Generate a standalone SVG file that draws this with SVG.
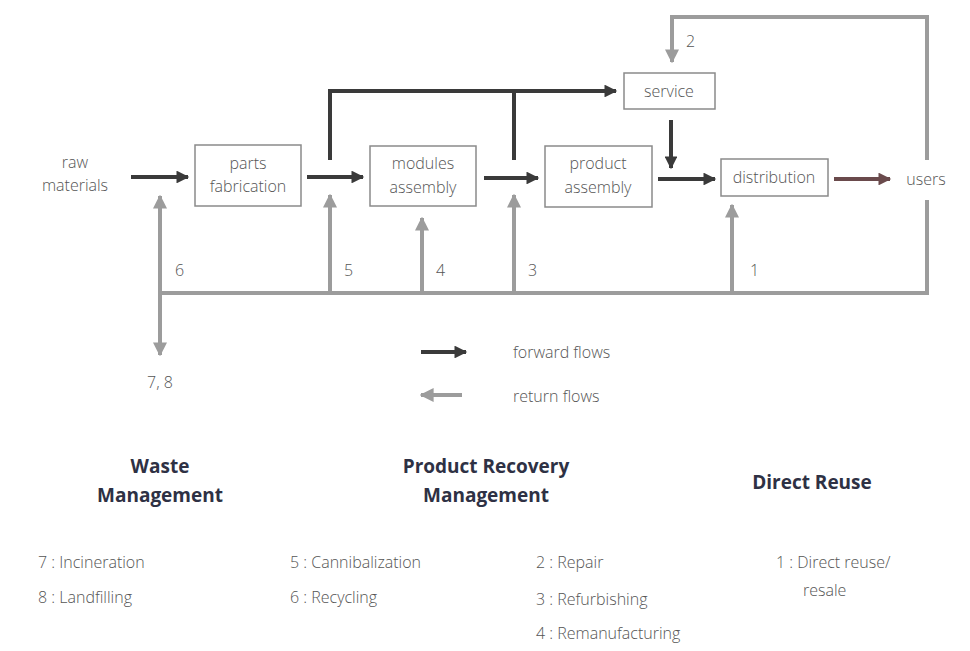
<svg xmlns="http://www.w3.org/2000/svg" width="970" height="651" viewBox="0 0 970 651">
<defs>
<marker id="fw" viewBox="0 0 10 10" refX="9" refY="5" markerWidth="4.5" markerHeight="3.2" orient="auto" markerUnits="strokeWidth"><path d="M0,0 L10,5 L0,10 z" fill="#3a3a3a"/></marker>
<marker id="rt" viewBox="0 0 10 10" refX="9" refY="5" markerWidth="3.5" markerHeight="3.5" orient="auto" markerUnits="strokeWidth"><path d="M0,0 L10,5 L0,10 z" fill="#9c9c9c"/></marker>
<marker id="rd" viewBox="0 0 10 10" refX="9" refY="5" markerWidth="4.5" markerHeight="3.2" orient="auto" markerUnits="strokeWidth"><path d="M0,0 L10,5 L0,10 z" fill="#6a4a4c"/></marker>
</defs>
<style>
.box{fill:#fff;stroke:#8a8a8a;stroke-width:1.5}
.t{font-family:"Open Sans","Liberation Sans",sans-serif;font-size:16px;fill:#555;font-weight:300}
.c{text-anchor:middle}
.h{font-family:"Open Sans","Liberation Sans",sans-serif;font-size:19px;font-weight:bold;fill:#2e3144;text-anchor:middle}
.f{fill:none;stroke:#3a3a3a;stroke-width:4}
.r{fill:none;stroke:#9c9c9c;stroke-width:4}
</style>
<rect width="970" height="651" fill="#fff"/>
<g id="connectors">
<line class="f" x1="131" y1="177" x2="188" y2="177" marker-end="url(#fw)"/>
<line class="f" x1="307" y1="177" x2="363" y2="177" marker-end="url(#fw)"/>
<polyline class="f" points="330,160 330,91 616,91" marker-end="url(#fw)"/>
<line class="f" x1="514" y1="91" x2="514" y2="160"/>
<line class="f" x1="484" y1="178" x2="538" y2="178" marker-end="url(#fw)"/>
<line class="f" x1="671" y1="120" x2="671" y2="168" marker-end="url(#fw)"/>
<line class="f" x1="658" y1="179" x2="715" y2="179" marker-end="url(#fw)"/>
<line x1="834" y1="179" x2="890" y2="179" stroke="#6a4a4c" stroke-width="4" marker-end="url(#rd)"/>
<polyline class="r" points="927,200 927,293 160,293"/>
<polyline class="r" points="927,160 927,17 672,17 672,62" marker-end="url(#rt)"/>
<line class="r" x1="160" y1="293" x2="160" y2="196" marker-end="url(#rt)"/>
<line class="r" x1="160" y1="293" x2="160" y2="355" marker-end="url(#rt)"/>
<line class="r" x1="330" y1="293" x2="330" y2="195" marker-end="url(#rt)"/>
<line class="r" x1="422" y1="293" x2="422" y2="218" marker-end="url(#rt)"/>
<line class="r" x1="514" y1="293" x2="514" y2="195" marker-end="url(#rt)"/>
<line class="r" x1="732" y1="293" x2="732" y2="205" marker-end="url(#rt)"/>
<line class="f" x1="421" y1="352" x2="466" y2="352" marker-end="url(#fw)"/>
<line class="r" x1="462" y1="395" x2="421" y2="395" marker-end="url(#rt)"/>
</g>
<g id="raw"><text class="t c" x="75" y="168">raw</text><text class="t c" x="75" y="191">materials</text></g>
<g id="parts"><rect class="box" x="195" y="145" width="106" height="61"/><text class="t c" x="248" y="169">parts</text><text class="t c" x="248" y="192">fabrication</text></g>
<g id="modules"><rect class="box" x="370" y="146" width="106" height="60"/><text class="t c" x="423" y="169">modules</text><text class="t c" x="423" y="193">assembly</text></g>
<g id="product"><rect class="box" x="545" y="146" width="107" height="61"/><text class="t c" x="598" y="169">product</text><text class="t c" x="598" y="193">assembly</text></g>
<g id="service"><rect class="box" x="624" y="73" width="91" height="36"/><text class="t c" x="669" y="97">service</text></g>
<g id="distribution"><rect class="box" x="721" y="159" width="107" height="37"/><text class="t c" x="774" y="183">distribution</text></g>
<g id="users"><text class="t c" x="926" y="185">users</text></g>
<g id="labels">
<text class="t" x="686" y="47">2</text>
<text class="t" x="175" y="276">6</text>
<text class="t" x="344" y="276">5</text>
<text class="t" x="436" y="276">4</text>
<text class="t" x="528" y="276">3</text>
<text class="t" x="750" y="276">1</text>
<text class="t c" x="160" y="388">7, 8</text>
<text class="t" x="513" y="358">forward flows</text>
<text class="t" x="513" y="402">return flows</text>
</g>
<g id="legend">
<text class="h" x="160" y="473">Waste</text>
<text class="h" x="160" y="502">Management</text>
<text class="h" x="486" y="473">Product Recovery</text>
<text class="h" x="486" y="502">Management</text>
<text class="h" x="812" y="489">Direct Reuse</text>
<text class="t" x="38" y="568">7 : Incineration</text>
<text class="t" x="38" y="603">8 : Landfilling</text>
<text class="t" x="290" y="568">5 : Cannibalization</text>
<text class="t" x="290" y="603">6 : Recycling</text>
<text class="t" x="536" y="568">2 : Repair</text>
<text class="t" x="536" y="605">3 : Refurbishing</text>
<text class="t" x="536" y="639">4 : Remanufacturing</text>
<text class="t" x="776" y="568">1 : Direct reuse/</text>
<text class="t" x="803" y="596">resale</text>
</g>
</svg>
